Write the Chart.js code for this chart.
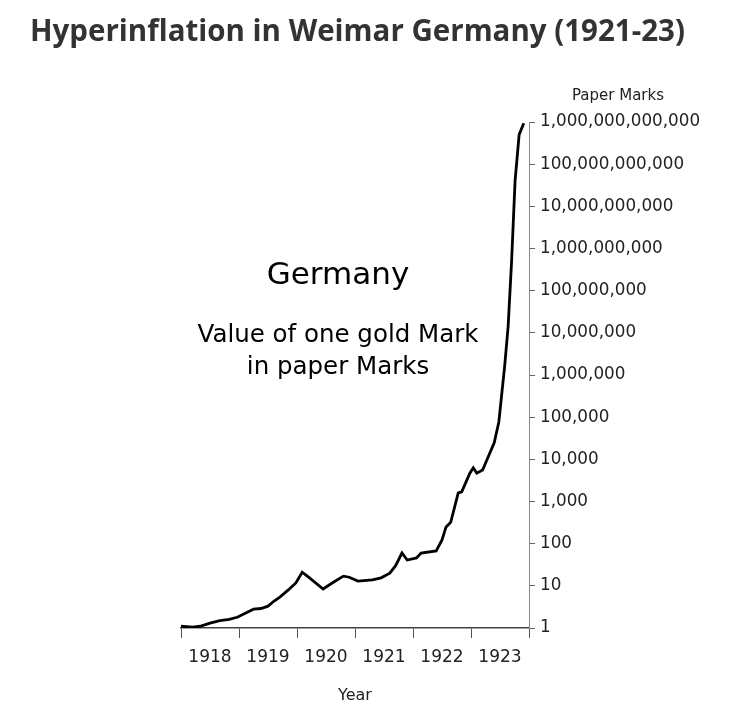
<!DOCTYPE html>
<html><head><meta charset="utf-8">
<script src="https://cdn.jsdelivr.net/npm/chart.js@4.4.0/dist/chart.umd.min.js"></script>
<style>
html,body{margin:0;padding:0;background:#fff;width:729px;height:709px;overflow:hidden}
#t{position:absolute;left:30px;top:9px;margin:0;font:bold 29.5px "Open Sans",sans-serif;color:#333}
#w{position:absolute;left:0;top:0;width:729px;height:709px}
</style></head><body>
<div id="w"><canvas id="c"></canvas></div>
<h1 id="t">Hyperinflation in Weimar Germany (1921-23)</h1>
<script>
const years = [1918, 1919, 1920, 1921, 1922, 1923];
const yTicks = [1,10,100,1e3,1e4,1e5,1e6,1e7,1e8,1e9,1e10,1e11,1e12];
const dates = [1918.0,1918.2,1918.33,1918.5,1918.67,1918.83,1918.97,1919.1,1919.25,1919.38,1919.5,1919.6,1919.71,1919.85,1919.98,1920.09,1920.2,1920.45,1920.62,1920.8,1920.9,1921.05,1921.3,1921.45,1921.6,1921.7,1921.81,1921.9,1922.06,1922.14,1922.4,1922.5,1922.57,1922.65,1922.78,1922.84,1922.98,1923.04,1923.1,1923.2,1923.4,1923.48,1923.58,1923.64,1923.7,1923.76,1923.83,1923.91];
const marks = [1.1,1.05,1.1,1.3,1.5,1.6,1.8,2.2,2.8,2.9,3.3,4.3,5.5,8,11.7,21,16,8.4,12,17,16,13,13.8,15.5,20,30,60,41,46,60,67,123,250,320,1600,1700,4700,6300,4700,5600,24500,77000,1.6e6,1.4e7,5e8,4e10,5e11,9.3e11];

const font = 'DejaVu Sans';
const txt = {id:'txt', afterDraw(c){
  const x=c.ctx; x.save(); x.fillStyle='#000'; x.textAlign='center'; x.textBaseline='middle';
  x.font='31px "'+font+'"'; x.fillText('Germany',338,276);
  x.font='24.5px "'+font+'"'; x.fillText('Value of one gold Mark',338,336); x.fillText('in paper Marks',338,368);
  x.font='15px "'+font+'"'; x.fillStyle='#222'; x.fillText('Paper Marks',618,96);
  x.restore();
}};
new Chart(document.getElementById('c'), {
  type:'line',
  data:{datasets:[{data:dates.map((d,i)=>({x:d,y:marks[i]})),borderColor:'#000',borderWidth:2.8,pointRadius:0,tension:0,fill:false}]},
  plugins:[txt],
  options:{responsive:true,maintainAspectRatio:false,animation:false,
    layout:{padding:{left:181,top:122,right:0,bottom:0}},
    plugins:{legend:{display:false},tooltip:{enabled:false}},
    scales:{
      x:{type:'linear',min:1918,max:1924,
        afterBuildTicks(a){const t=[];for(let y=1918;y<=1924;y++){t.push({value:y});if(y<1924)t.push({value:y+0.5});}a.ticks=t;},
        afterFit(a){a.height=81;},
        border:{color:'#444',width:1.5},
        grid:{drawOnChartArea:false,tickLength:10,tickColor:(ctx)=>Number.isInteger(ctx.tick.value)?'#555':'rgba(0,0,0,0)'},
        ticks:{autoSkip:false,maxRotation:0,padding:9,color:'#222',font:{family:font,size:17},
          callback:(v)=>Number.isInteger(v)?'':String(Math.floor(v))},
        title:{display:true,text:'Year',color:'#222',font:{family:font,size:16},padding:{top:0}}
      },
      y:{type:'logarithmic',position:'right',min:1,max:1e12,
        afterBuildTicks(a){a.ticks=yTicks.map(v=>({value:v}));},
        afterFit(a){a.width=200;},
        border:{color:'#888',width:1},
        grid:{drawOnChartArea:false,tickLength:6,tickColor:'#666'},
        ticks:{autoSkip:false,padding:5,color:'#222',font:{family:font,size:16.8},
          callback:(v)=>Number(v).toLocaleString('en-US')}
      }
    }
  }
});
</script></body></html>
